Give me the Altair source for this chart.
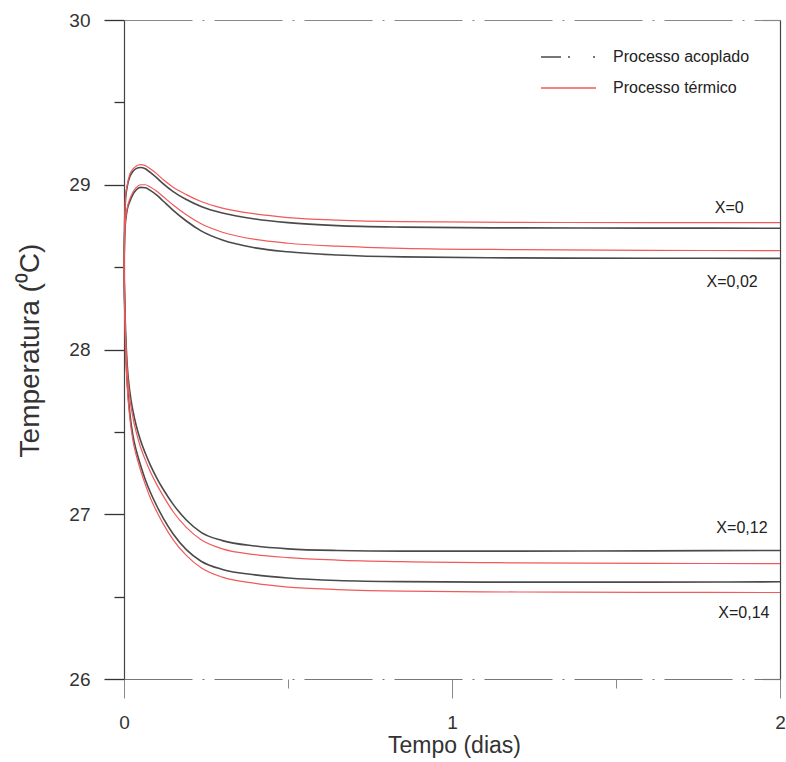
import altair as alt
import pandas as pd

# ---------------- data ----------------
t_days = [0, 0.002, 0.005, 0.01, 0.018, 0.027, 0.037, 0.05, 0.065, 0.08, 0.1, 0.12,
          0.15, 0.19, 0.235, 0.3, 0.4, 0.5, 0.65, 0.85, 1.2, 1.6, 2.0]

x0_acoplado = [28.5, 28.78, 28.92, 28.99, 29.05, 29.08, 29.098, 29.105, 29.097, 29.075, 29.042, 29.005,
               28.958, 28.91, 28.868, 28.828, 28.792, 28.77, 28.752, 28.743, 28.738, 28.737, 28.736]
x0_termico = [28.5, 28.79, 28.93, 29.0, 29.065, 29.095, 29.113, 29.122, 29.116, 29.097, 29.066, 29.03,
              28.985, 28.94, 28.898, 28.858, 28.823, 28.801, 28.785, 28.776, 28.772, 28.77, 28.77]
x002_acoplado = [28.5, 28.70, 28.78, 28.85, 28.90, 28.94, 28.968, 28.984, 28.982, 28.966, 28.937, 28.90,
                 28.845, 28.78, 28.72, 28.664, 28.617, 28.593, 28.574, 28.562, 28.556, 28.554, 28.553]
x002_termico = [28.5, 28.71, 28.79, 28.86, 28.915, 28.955, 28.983, 29.0, 29.0, 28.986, 28.96, 28.927,
                28.877, 28.818, 28.763, 28.712, 28.668, 28.645, 28.627, 28.614, 28.606, 28.602, 28.60]
x012_acoplado = [28.5, 28.30, 28.10, 27.90, 27.74, 27.63, 27.54, 27.45, 27.37, 27.30, 27.22, 27.15,
                 27.06, 26.965, 26.89, 26.84, 26.807, 26.79, 26.78, 26.776, 26.776, 26.778, 26.78]
x012_termico = [28.5, 28.28, 28.07, 27.87, 27.70, 27.59, 27.50, 27.41, 27.33, 27.26, 27.18, 27.11,
                27.015, 26.92, 26.845, 26.79, 26.755, 26.737, 26.722, 26.712, 26.705, 26.702, 26.70]
x014_acoplado = [28.5, 28.26, 28.02, 27.80, 27.61, 27.48, 27.39, 27.30, 27.21, 27.135, 27.05, 26.975,
                 26.88, 26.785, 26.715, 26.665, 26.632, 26.613, 26.598, 26.591, 26.588, 26.588, 26.59]
x014_termico = [28.5, 28.24, 27.99, 27.77, 27.58, 27.45, 27.36, 27.27, 27.18, 27.10, 27.015, 26.94,
                26.845, 26.75, 26.675, 26.618, 26.58, 26.558, 26.543, 26.533, 26.528, 26.526, 26.525]

series_labels = ["X=0", "X=0,02", "X=0,12", "X=0,14"]
processes = ["Processo acoplado", "Processo térmico"]

label_t = [1.845, 1.854, 1.884, 1.89]
label_temp = [28.86, 28.41, 26.915, 26.40]

x_major_count = 2
x_minor = [0.5, 1.5]
y_major = [26, 27, 28, 29, 30]
y_minor = [26.5, 27.5, 28.5, 29.5]

# ---------------- tables ----------------
acop = [x0_acoplado, x002_acoplado, x012_acoplado, x014_acoplado]
term = [x0_termico, x002_termico, x012_termico, x014_termico]
rows = []
for lab, a, b in zip(series_labels, acop, term):
    for t, v in zip(t_days, a):
        rows.append({"t": t, "temp": v, "serie": lab, "processo": processes[0], "key": lab + "a"})
    for t, v in zip(t_days, b):
        rows.append({"t": t, "temp": v, "serie": lab, "processo": processes[1], "key": lab + "b"})
df = pd.DataFrame(rows)
df_a = df[df["processo"] == processes[0]]
df_b = df[df["processo"] == processes[1]]
lab_df = pd.DataFrame({"t": label_t, "temp": label_temp, "txt": series_labels})

FONT = "Liberation Sans"
xscale = alt.Scale(domain=[0, 2], nice=False, zero=False)
yscale = alt.Scale(domain=[26, 30], nice=False, zero=False)
legend_kw = dict(
    orient="none", legendX=416, legendY=29, title=None,
    symbolType="stroke", symbolSize=3025, symbolStrokeWidth=1.3,
    labelFontSize=16, labelFont=FONT, labelColor="#222", labelOffset=16,
    clipHeight=16, rowPadding=15, padding=0, direction="vertical",
)
color = alt.Color(
    "processo:N",
    scale=alt.Scale(domain=processes, range=["#4a4a4a", "#f05a5a"]),
    legend=alt.Legend(**legend_kw),
)

# layer 1: acoplado lines + main axes
l1 = alt.Chart(df_a).mark_line(strokeWidth=1.6, interpolate="monotone").encode(
    x=alt.X("t:Q", scale=xscale, axis=alt.Axis(
        tickCount=x_major_count, orient="bottom", grid=False,
        tickSize=19, tickColor="#888", tickWidth=1,
        labelPadding=15, labelFontSize=19, labelFont=FONT, labelColor="#333",
        labelFlush=False, labelOverlap=False,
        domainColor="#777", domainDash=[68, 10, 2, 10], domainWidth=1.2,
        title="Tempo (dias)", titleFontSize=23, titleFont=FONT, titleFontWeight="normal",
        titleColor="#333", titleX=330, titleY=66, titleBaseline="middle", titleAlign="center")),
    y=alt.Y("temp:Q", scale=yscale, axis=alt.Axis(
        values=y_major, orient="left", format="d", grid=False,
        tickSize=20, tickColor="#333", tickWidth=1.3,
        labelPadding=14, labelFontSize=19, labelFont=FONT, labelColor="#333", labelOverlap=False,
        domainColor="#444", domainWidth=1.2,
        title="Temperatura (⁰C)", titleFontSize=28, titleFont=FONT, titleFontWeight="normal",
        titleColor="#333", titleAngle=270, titleX=-94, titleY=330,
        titleAlign="center", titleBaseline="middle")),
    color=color,
    detail="key:N",
)

# layer 2: termico lines + frame axes (top, right)
l2 = alt.Chart(df_b).mark_line(strokeWidth=1.2, interpolate="monotone").encode(
    x=alt.X("t:Q", scale=xscale, axis=alt.Axis(
        orient="top", ticks=False, labels=False, grid=False, title=None,
        domainColor="#888", domainDash=[68, 10, 2, 10], domainWidth=1.2)),
    y=alt.Y("temp:Q", scale=yscale, axis=alt.Axis(
        orient="right", ticks=False, labels=False, grid=False, title=None,
        domainColor="#444", domainWidth=1.2)),
    color=color,
    detail="key:N",
)

# layer 3: curve labels + minor ticks
l3 = alt.Chart(lab_df).mark_text(fontSize=16, font=FONT, color="#222",
                                 align="center", baseline="middle").encode(
    x=alt.X("t:Q", scale=xscale, axis=alt.Axis(
        values=x_minor, orient="bottom", tickSize=9, tickColor="#888", labels=False,
        domain=False, grid=False, title=None)),
    y=alt.Y("temp:Q", scale=yscale, axis=alt.Axis(
        values=y_minor, orient="left", tickSize=10, tickColor="#333", tickWidth=1.3,
        labels=False, domain=False, grid=False, title=None)),
    text="txt:N",
)

# layer 4: no rows drawn; only gives the legend its dash-dot symbol for "acoplado"
l4 = alt.Chart(df_a).transform_filter("datum.t < 0").mark_line().encode(
    x=alt.X("t:Q", scale=xscale, axis=None),
    y=alt.Y("temp:Q", scale=yscale, axis=None),
    color=color,
    strokeDash=alt.StrokeDash(
        "processo:N",
        scale=alt.Scale(domain=processes, range=[[20, 7, 2, 23, 2, 100], [1, 0]]),
        legend=alt.Legend(**legend_kw),
    ),
)

chart = alt.layer(l1, l2, l3, l4).properties(
    width=656, height=659,
    autosize=alt.AutoSizeParams(type="none"),
    padding={"left": 124, "top": 20, "right": 6, "bottom": 83},
    background="white",
).configure_view(stroke=None)

chart.save("out.html", embed_options={"renderer": "svg", "actions": False})
